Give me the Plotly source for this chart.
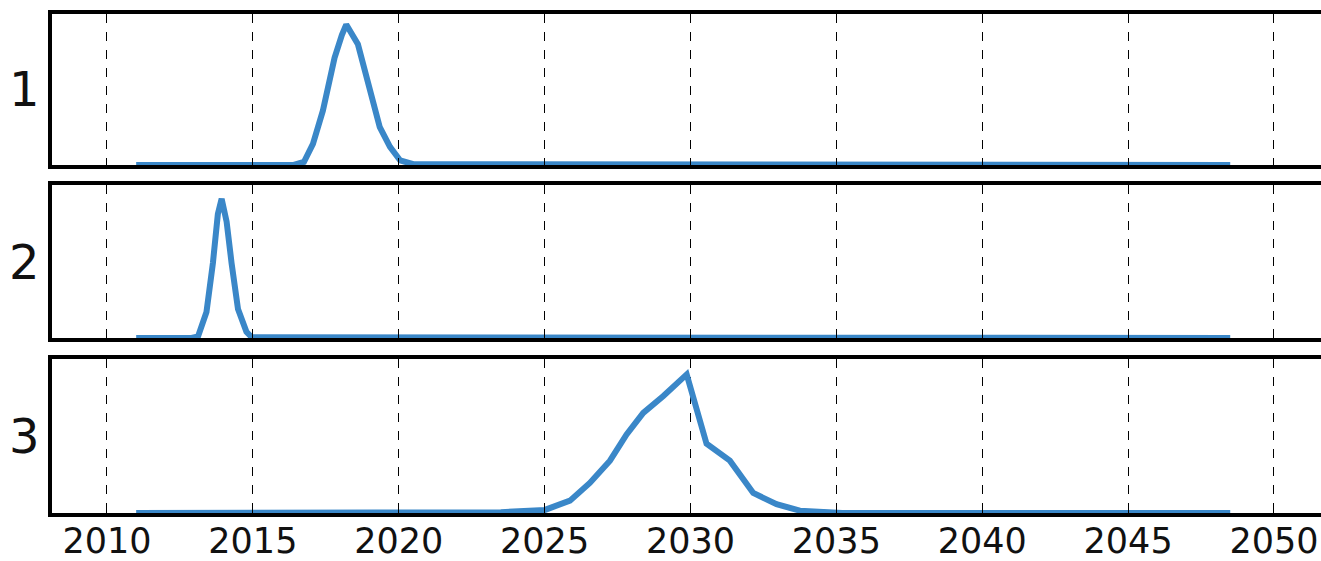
import plotly.graph_objects as go

# Panel 1 series (year, relative value)
years_1 = [2011.0, 2016.4, 2016.75, 2017.06, 2017.4, 2017.8, 2018.05, 2018.2, 2018.6, 2019.0, 2019.35, 2019.7, 2020.05, 2020.5, 2048.5]
values_1 = [0.0, 0.0, 0.02, 0.14, 0.36, 0.71, 0.86, 0.93, 0.80, 0.49, 0.25, 0.12, 0.03, 0.005, 0.0]

# Panel 2 series
years_2 = [2011.0, 2012.9, 2013.12, 2013.41, 2013.63, 2013.8, 2013.93, 2014.1, 2014.27, 2014.49, 2014.78, 2014.96, 2048.5]
values_2 = [0.0, 0.0, 0.01, 0.17, 0.49, 0.81, 0.91, 0.76, 0.49, 0.19, 0.04, 0.005, 0.0]

# Panel 3 series
years_3 = [2011.0, 2023.5, 2025.01, 2025.87, 2026.55, 2027.24, 2027.81, 2028.38, 2029.07, 2029.87, 2030.55, 2031.35, 2032.15, 2032.95, 2033.75, 2034.43, 2035.2, 2048.5]
values_3 = [0.0, 0.005, 0.02, 0.08, 0.195, 0.34, 0.51, 0.65, 0.76, 0.90, 0.45, 0.34, 0.13, 0.057, 0.015, 0.005, 0.0, 0.0]

panel_labels = ["1", "2", "3"]
tick_years = [2010, 2015, 2020, 2025, 2030, 2035, 2040, 2045, 2050]

series = [(years_1, values_1), (years_2, values_2), (years_3, values_3)]
domains = [[0.6974, 1.0], [0.3507, 0.6573], [0.0, 0.3086]]

LINE_COLOR = "#3a87c8"
FONT = "DejaVu Sans"

fig = go.Figure()
for i, (xs, ys) in enumerate(series):
    n = i + 1
    suffix = "" if n == 1 else str(n)
    fig.add_trace(go.Scatter(x=xs, y=ys, mode="lines",
                             line=dict(color=LINE_COLOR, width=6),
                             xaxis="x" + suffix, yaxis="y" + suffix,
                             showlegend=False, hoverinfo="skip"))
    xa = dict(range=[2008.115, 2051.92], tickvals=tick_years,
              ticktext=[str(t) for t in tick_years], automargin=False,
              showticklabels=(n == 3), showgrid=True, gridcolor="black",
              gridwidth=1, griddash="dash", zeroline=False,
              showline=True, linecolor="black", linewidth=4, mirror="allticks",
              ticks="inside", ticklen=7, tickwidth=1, tickcolor="black",
              ticklabelstandoff=-6,
              tickfont=dict(family=FONT, size=35, color="#111111"),
              anchor="y" + suffix)
    if n != 1:
        xa["matches"] = "x"
    ya = dict(domain=domains[i], range=[0, 1.0], showticklabels=False,
              showgrid=False, zeroline=False, ticks="", automargin=False,
              showline=True, linecolor="black", linewidth=4, mirror=True,
              anchor="x" + suffix)
    fig.update_layout(**{"xaxis" + suffix: xa, "yaxis" + suffix: ya})
    fig.add_annotation(text=panel_labels[i], xref="paper", yref="paper",
                       x=0, xanchor="right", xshift=-10,
                       y=(domains[i][0] + domains[i][1]) / 2, yanchor="middle",
                       showarrow=False,
                       font=dict(family=FONT, size=48, color="#111111"))

fig.update_layout(width=1330, height=561,
                  margin=dict(l=52, r=0, t=14, b=48),
                  plot_bgcolor="white", paper_bgcolor="white")

fig.write_html("out.html", config={"displayModeBar": False},
               post_script="document.body.style.margin='0';document.body.style.overflow='hidden';")
